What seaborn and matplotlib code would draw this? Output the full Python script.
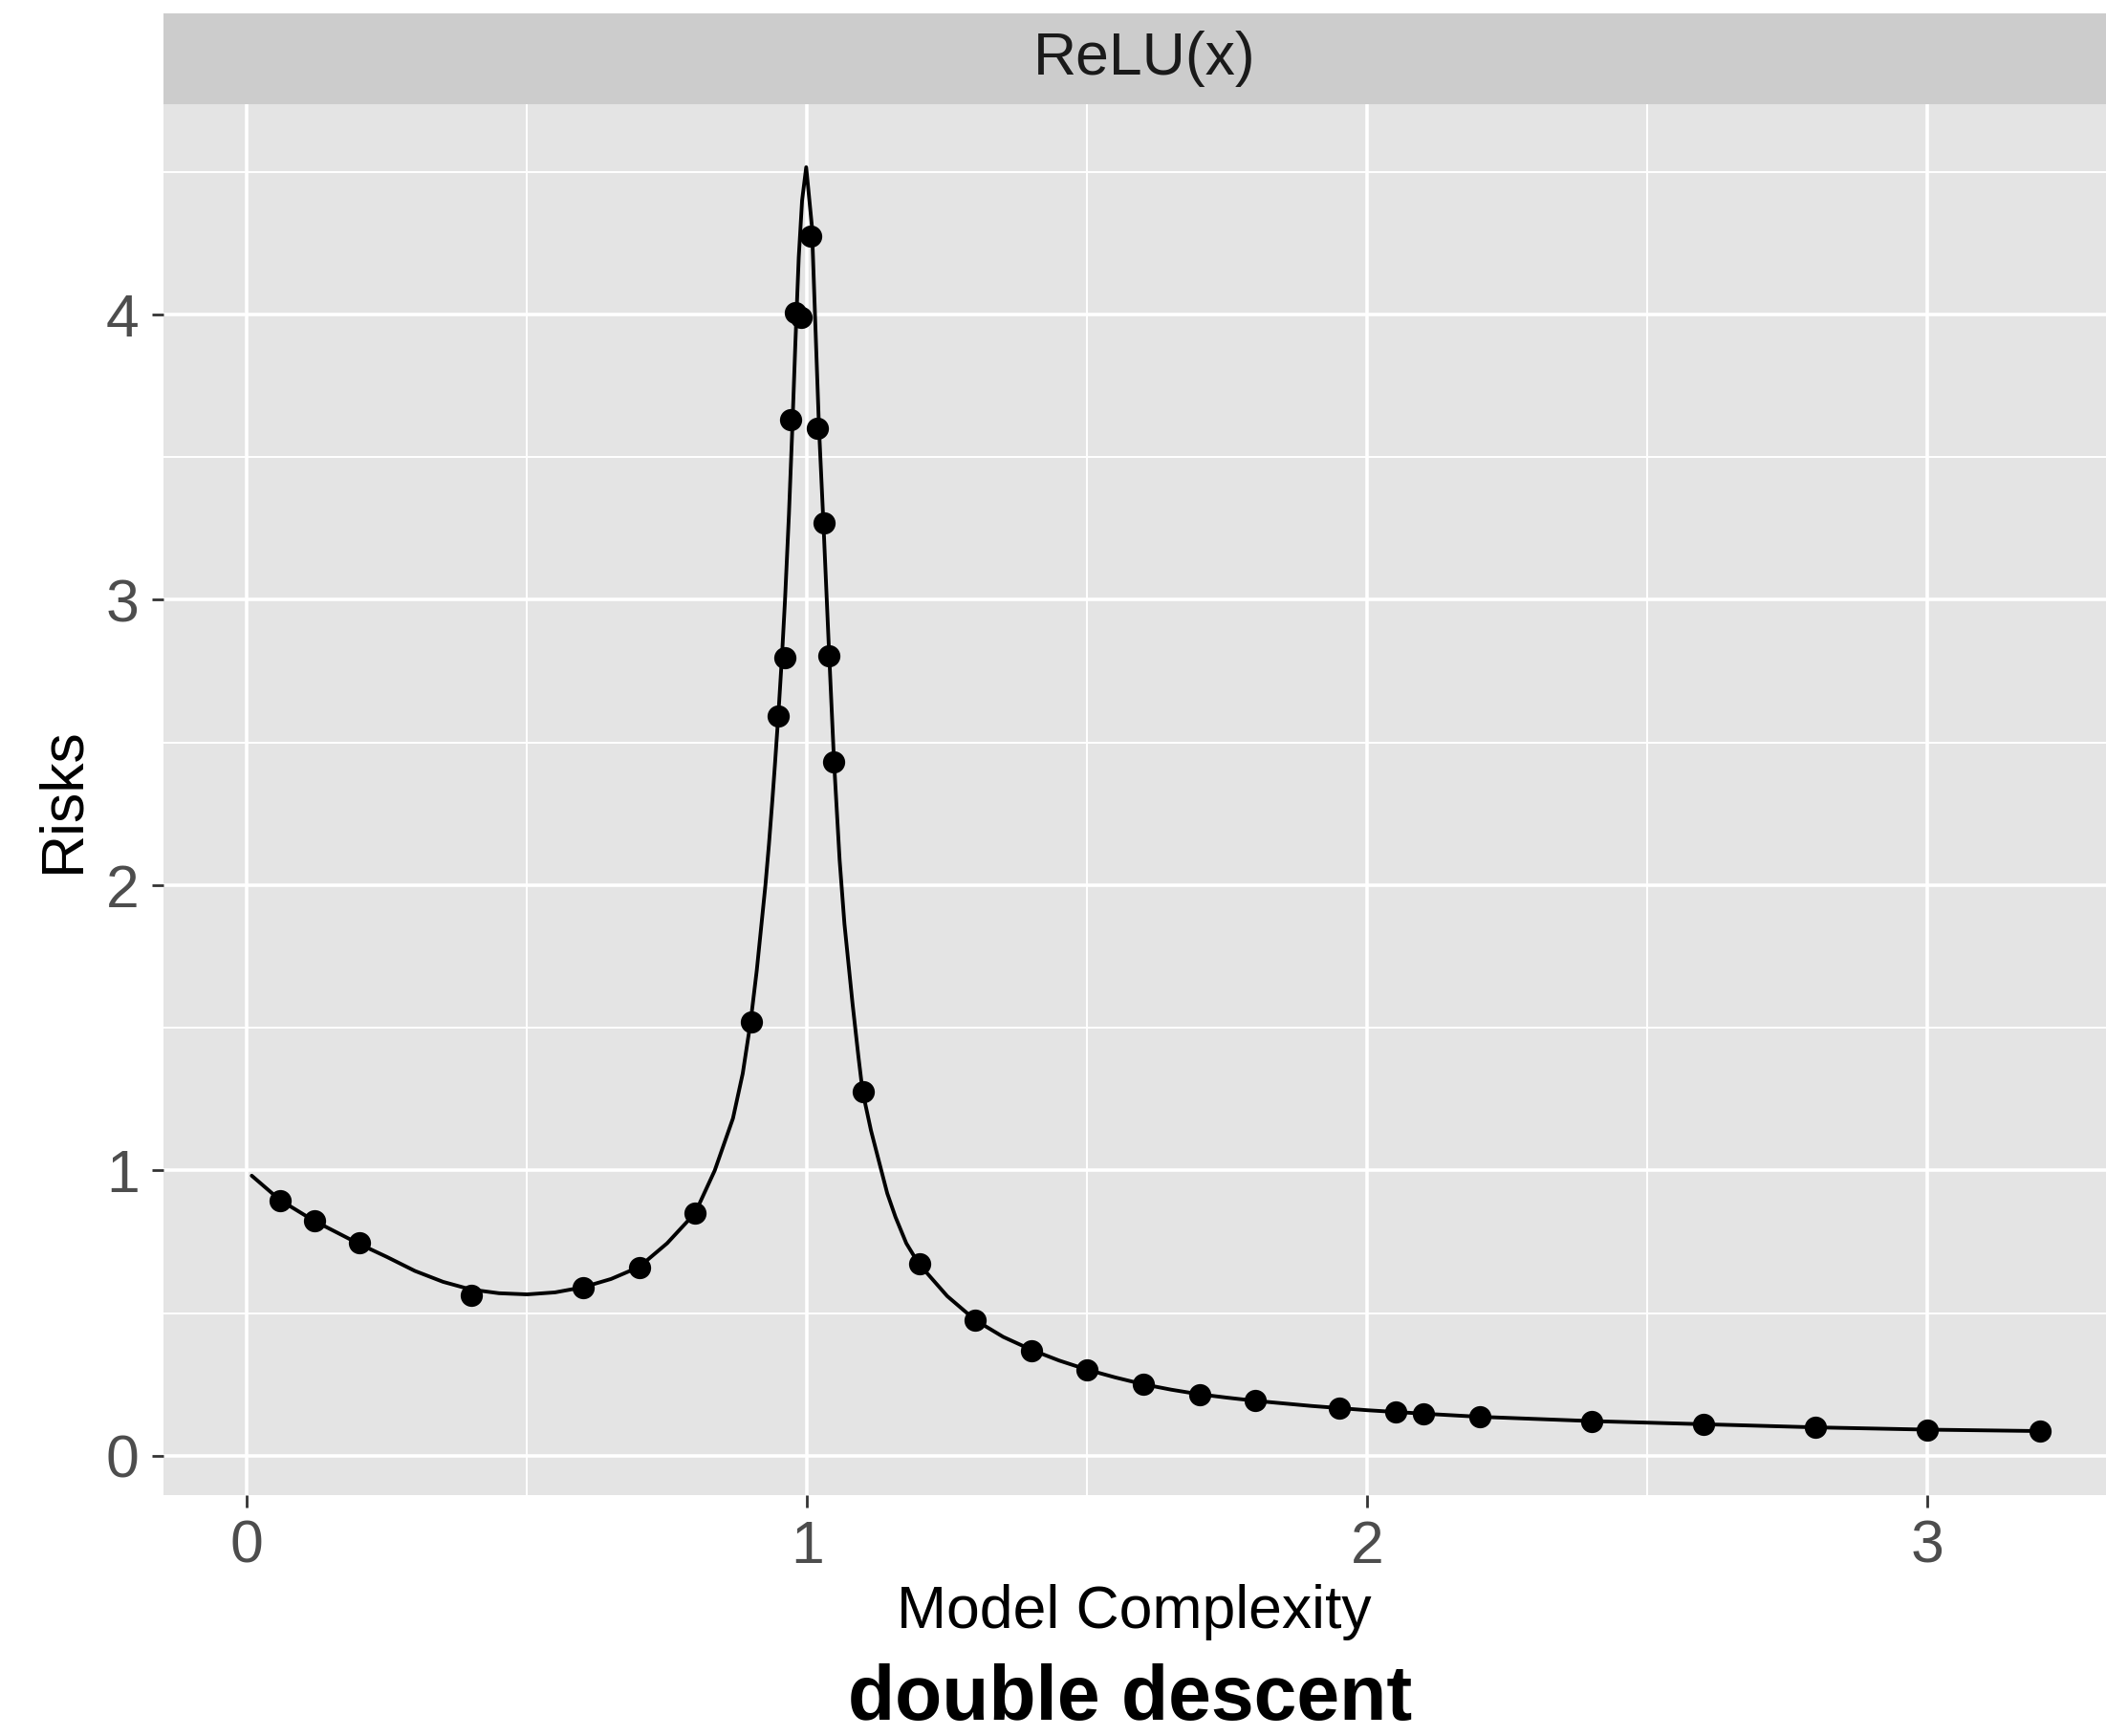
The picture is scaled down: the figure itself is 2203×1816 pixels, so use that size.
import matplotlib
matplotlib.use("Agg")
import matplotlib.pyplot as plt
import seaborn as sns

# Theory curve
curve_x = [0.0085, 0.0587, 0.1178, 0.198, 0.25, 0.30, 0.35, 0.40, 0.45, 0.50,
           0.55, 0.60, 0.65, 0.70, 0.75, 0.80, 0.835, 0.8676, 0.885, 0.899,
           0.9100, 0.9185, 0.9255, 0.9318, 0.9380, 0.9425, 0.9487, 0.9550, 0.9605, 0.9675,
           0.9735, 0.9790, 0.9850, 0.9910, 0.9983, 1.0085, 1.0140, 1.0211, 1.0290, 1.0382,
           1.0480, 1.0580, 1.0666, 1.0810, 1.0915, 1.0990, 1.1140, 1.1290, 1.1430, 1.1577,
           1.1770, 1.1990, 1.25, 1.30, 1.35, 1.40, 1.45, 1.50, 1.55, 1.60,
           1.65, 1.70, 1.75, 1.80, 1.90, 2.00, 2.10, 2.20, 2.40, 2.60,
           2.80, 3.00, 3.20]
curve_y = [0.982, 0.897, 0.826, 0.745, 0.697, 0.648, 0.610, 0.583, 0.570, 0.566,
           0.573, 0.591, 0.620, 0.662, 0.745, 0.851, 1.000, 1.183, 1.340, 1.520,
           1.700, 1.864, 2.000, 2.143, 2.300, 2.422, 2.600, 2.800, 3.000, 3.300,
           3.600, 3.900, 4.200, 4.400, 4.516, 4.309, 4.000, 3.606, 3.271, 2.858,
           2.433, 2.087, 1.864, 1.585, 1.400, 1.277, 1.140, 1.026, 0.920, 0.837,
           0.745, 0.674, 0.560, 0.476, 0.417, 0.372, 0.334, 0.302, 0.275, 0.251,
           0.232, 0.216, 0.204, 0.193, 0.175, 0.160, 0.148, 0.137, 0.122, 0.111,
           0.100, 0.092, 0.087]

# Simulated risks (dots)
pts_x = [0.06, 0.12, 0.20, 0.40, 0.60, 0.70, 0.80, 0.90, 0.949, 0.960, 0.970, 0.9785,
         0.990, 1.007, 1.019, 1.030, 1.0385, 1.048, 1.10, 1.20, 1.30, 1.40, 1.50, 1.60,
         1.70, 1.80, 1.95, 2.05, 2.10, 2.20, 2.40, 2.60, 2.80, 3.00, 3.20]
pts_y = [0.894, 0.823, 0.747, 0.563, 0.591, 0.660, 0.851, 1.520, 2.592, 2.796, 3.633, 4.008,
         3.991, 4.274, 3.602, 3.271, 2.804, 2.433, 1.277, 0.674, 0.476, 0.370, 0.302, 0.250,
         0.216, 0.194, 0.167, 0.153, 0.149, 0.136, 0.122, 0.111, 0.099, 0.092, 0.088]

sns.set_theme(style="darkgrid", rc={"axes.facecolor": "#E4E4E4", "grid.color": "white"})
plt.rcParams['font.family'] = ['Liberation Sans', 'DejaVu Sans']

fig = plt.figure(figsize=(22.03, 18.16), dpi=100)
ax = fig.add_axes([0.0775, 0.139, 0.9225, 0.801])

sns.lineplot(x=curve_x, y=curve_y, ax=ax, color="black", lw=2.8, sort=False, estimator=None)
sns.scatterplot(x=pts_x, y=pts_y, ax=ax, color="black", s=280, linewidth=0, zorder=3)

ax.set_xlim(-0.1495, 3.3186)
ax.set_ylim(-0.136, 4.737)
ax.set_xticks([0, 1, 2, 3])
ax.set_xticks([0.5, 1.5, 2.5], minor=True)
ax.set_yticks([0, 1, 2, 3, 4])
ax.set_yticks([0.5, 1.5, 2.5, 3.5, 4.5], minor=True)
ax.tick_params(which="major", length=9, width=2, color="#333333",
               labelsize=45, labelcolor="#4D4D4D", pad=9, bottom=True, left=True)
ax.tick_params(which="minor", length=0)
ax.grid(which="major", color="white", lw=2.6)
ax.grid(which="minor", color="white", lw=1.4)
ax.set_axisbelow(True)
for s in ax.spines.values():
    s.set_visible(False)
ax.set_xlabel("")
ax.set_ylabel("")

# facet strip
sax = fig.add_axes([0.0775, 0.94, 0.9225, 0.0523])
sax.set_facecolor("#CCCCCC")
sax.set_xticks([])
sax.set_yticks([])
sax.grid(False)
for s in sax.spines.values():
    s.set_visible(False)
sax.text(0.505, 0.5, "ReLU(x)", ha="center", va="center", fontsize=45,
         color="#1A1A1A", transform=sax.transAxes)

fig.text(0.5387, 0.0622, "Model Complexity", ha="center", va="baseline", fontsize=45, color="black")
fig.text(0.030, 0.5395, "Risks", ha="center", va="center", rotation=90, fontsize=45, color="black")
fig.text(0.5367, 0.0095, "double descent", ha="center", va="baseline", fontsize=58,
         fontweight="bold", color="black")

fig.savefig("out.png", dpi=100)
